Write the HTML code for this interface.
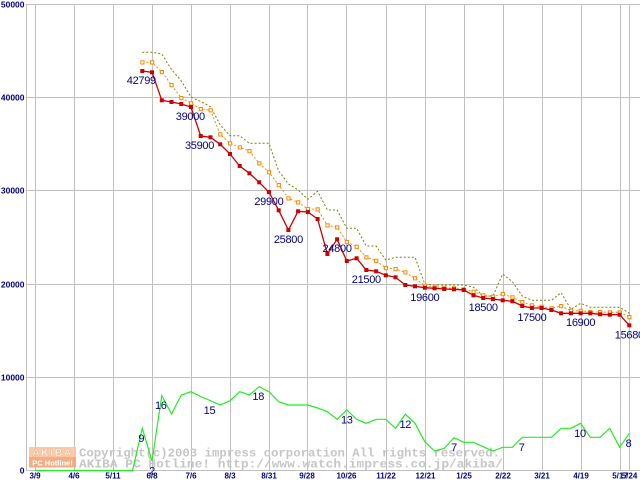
<!DOCTYPE html>
<html>
<head>
<meta charset="utf-8">
<style>
html,body{margin:0;padding:0;background:#fff;}
svg{display:block;}
</style>
</head>
<body>
<svg width="640" height="480" viewBox="0 0 640 480" xmlns="http://www.w3.org/2000/svg">
<rect x="0" y="0" width="640" height="480" fill="#ffffff"/>
<!-- grid -->
<g stroke="#c0c0c0" stroke-width="1" shape-rendering="crispEdges">
  <line x1="26" y1="4.5" x2="640" y2="4.5"/>
  <line x1="26" y1="97.5" x2="640" y2="97.5"/>
  <line x1="26" y1="190.5" x2="640" y2="190.5"/>
  <line x1="26" y1="284.5" x2="640" y2="284.5"/>
  <line x1="26" y1="377.5" x2="640" y2="377.5"/>
  <line x1="26" y1="470.5" x2="640" y2="470.5"/>
  <line x1="26.5" y1="4" x2="26.5" y2="471"/>
  <line x1="35.5" y1="4" x2="35.5" y2="471"/>
  <line x1="74.5" y1="4" x2="74.5" y2="471"/>
  <line x1="113.5" y1="4" x2="113.5" y2="471"/>
  <line x1="152.5" y1="4" x2="152.5" y2="471"/>
  <line x1="191.5" y1="4" x2="191.5" y2="471"/>
  <line x1="230.5" y1="4" x2="230.5" y2="471"/>
  <line x1="269.5" y1="4" x2="269.5" y2="471"/>
  <line x1="307.5" y1="4" x2="307.5" y2="471"/>
  <line x1="346.5" y1="4" x2="346.5" y2="471"/>
  <line x1="386.5" y1="4" x2="386.5" y2="471"/>
  <line x1="425.5" y1="4" x2="425.5" y2="471"/>
  <line x1="464.5" y1="4" x2="464.5" y2="471"/>
  <line x1="503.5" y1="4" x2="503.5" y2="471"/>
  <line x1="542.5" y1="4" x2="542.5" y2="471"/>
  <line x1="581.5" y1="4" x2="581.5" y2="471"/>
  <line x1="620.5" y1="4" x2="620.5" y2="471"/>
  <line x1="629.5" y1="4" x2="629.5" y2="471"/>
</g>

<!-- y labels -->
<g font-family="Liberation Sans, sans-serif" font-size="8.5" font-weight="bold" fill="#000080" text-anchor="end">
  <text x="24.5" y="7.5">50000</text>
  <text x="24.5" y="100.5">40000</text>
  <text x="24.5" y="193.5">30000</text>
  <text x="24.5" y="287.5">20000</text>
  <text x="24.5" y="380.5">10000</text>
  <text x="24.5" y="473.5">0</text>
</g>

<!-- x labels -->
<g font-family="Liberation Sans, sans-serif" font-size="8" font-weight="bold" fill="#000080" text-anchor="middle">
  <text x="35" y="478.5">3/9</text>
  <text x="74" y="478.5">4/6</text>
  <text x="113" y="478.5">5/11</text>
  <text x="152" y="478.5">6/8</text>
  <text x="191" y="478.5">7/6</text>
  <text x="230" y="478.5">8/3</text>
  <text x="269" y="478.5">8/31</text>
  <text x="307" y="478.5">9/28</text>
  <text x="346.5" y="478.5">10/26</text>
  <text x="386" y="478.5">11/22</text>
  <text x="425.5" y="478.5">12/21</text>
  <text x="464" y="478.5">1/25</text>
  <text x="503" y="478.5">2/22</text>
  <text x="542" y="478.5">3/21</text>
  <text x="581" y="478.5">4/19</text>
  <text x="620" y="478.5">5/17</text>
  <text x="629.5" y="478.5">5/24</text>
</g>

<!-- watermark logo -->
<g opacity="0.9">
  <rect x="29" y="447" width="47" height="10" fill="#f9c6a3"/>
  <rect x="29" y="457" width="47" height="10.5" fill="#f3a678"/>
  <text x="52.5" y="456" font-family="Liberation Sans, sans-serif" font-size="10.5" font-weight="bold" fill="#ffffff" stroke="#f0a070" stroke-width="0.4" text-anchor="middle" letter-spacing="1.5">AKIBA</text>
  <text x="52.5" y="465.5" font-family="Liberation Sans, sans-serif" font-size="7.5" font-weight="bold" fill="#ffffff" text-anchor="middle">PC Hotline!</text>
</g>
<!-- watermark text -->
<g font-family="Liberation Mono, monospace" font-size="12" font-weight="bold" fill="#c6c6c6">
  <text x="79" y="456.5" textLength="421" lengthAdjust="spacingAndGlyphs">Copyright(c)2003 impress corporation All rights reserved.</text>
  <text x="79" y="467.5" textLength="424" lengthAdjust="spacingAndGlyphs">AKIBA PC Hotline!  http://www.watch.impress.co.jp/akiba/</text>
</g>

<!-- green count line -->
<polyline fill="none" stroke="#22ee22" stroke-width="1.2" points="35,470.5 132.5,470.5 142.3,428.3 152.0,461 161.8,395.5 171.5,414 181.3,395 191.0,391.7 200.7,396.5 210.5,400.7 220.2,405 230.0,400.7 239.7,391.7 249.4,395 259.2,386.7 268.9,391.7 278.7,401.7 288.4,405 298.1,405 307.9,405 317.6,408 327.4,411.7 337.1,419.3 346.8,410 356.6,419.3 366.3,423.3 376.1,419.3 385.8,419.3 395.5,428.3 405.3,414.3 415.0,423.3 424.8,441.7 434.5,451 444.2,448.3 454.0,437.7 463.7,442.3 473.5,442.3 483.2,446.7 492.9,451 502.7,447.3 512.4,447.3 522.2,437.3 531.9,437.3 541.6,437.3 551.4,437.3 561.1,428.3 570.9,428.3 580.6,423.3 590.3,437.3 600.1,437.3 609.8,428.3 619.6,447.3 629.3,433.3"/>

<!-- olive max line -->
<polyline fill="none" stroke="#808000" stroke-width="1" stroke-dasharray="2 2" points="142.3,52.3 152.0,52.3 161.8,54 171.5,69.5 181.3,81 191.0,97 200.7,101.5 210.5,106.7 220.2,125 230.0,135.7 239.7,135.7 249.4,143.3 259.2,143.3 268.9,143.3 278.7,171 288.4,184 298.1,190 307.9,199.3 317.6,191.3 327.4,210 337.1,210 346.8,228.3 356.6,228.3 366.3,246 376.1,246 385.8,260 395.5,257.3 405.3,257.3 415.0,257.3 424.8,284 434.5,285 444.2,285 454.0,285 463.7,285 473.5,287.3 483.2,296 492.9,296 502.7,274 512.4,281.7 522.2,296 531.9,300.3 541.6,300.3 551.4,300.3 561.1,292.7 570.9,309.3 580.6,303.3 590.3,307.3 600.1,307.3 609.8,307.3 619.6,307.3 629.3,313.3"/>

<!-- orange average line -->
<polyline fill="none" stroke="#ff8800" stroke-width="1" stroke-dasharray="2 2" points="142.3,62.3 152.0,62.3 161.8,72 171.5,85 181.3,98 191.0,103.2 200.7,109 210.5,110.2 220.2,134.3 230.0,143.3 239.7,147.3 249.4,151 259.2,163.3 268.9,172.2 278.7,185 288.4,198.3 298.1,202.3 307.9,209 317.6,209.3 327.4,225.3 337.1,227.3 346.8,242 356.6,246.7 366.3,257.3 376.1,260.7 385.8,268 395.5,269 405.3,272.3 415.0,278.2 424.8,285.7 434.5,286.7 444.2,287.7 454.0,288.3 463.7,289.3 473.5,291.7 483.2,295.3 492.9,296.7 502.7,294 512.4,297.3 522.2,302 531.9,305.3 541.6,306.7 551.4,308.3 561.1,306 570.9,310.7 580.6,310.7 590.3,312 600.1,312 609.8,312.3 619.6,312.3 629.3,317"/>
<g fill="#ffffff" stroke="#ff8800" stroke-width="1">
  <rect x="140.8" y="60.8" width="3.2" height="3.2"/><rect x="150.5" y="60.8" width="3.2" height="3.2"/><rect x="160.3" y="70.5" width="3.2" height="3.2"/><rect x="170" y="83.5" width="3.2" height="3.2"/><rect x="179.8" y="96.5" width="3.2" height="3.2"/><rect x="189.5" y="101.7" width="3.2" height="3.2"/><rect x="199.2" y="107.5" width="3.2" height="3.2"/><rect x="209" y="108.7" width="3.2" height="3.2"/><rect x="218.7" y="132.8" width="3.2" height="3.2"/><rect x="228.5" y="141.8" width="3.2" height="3.2"/><rect x="238.2" y="145.8" width="3.2" height="3.2"/><rect x="247.9" y="149.5" width="3.2" height="3.2"/><rect x="257.7" y="161.8" width="3.2" height="3.2"/><rect x="267.4" y="170.7" width="3.2" height="3.2"/><rect x="277.2" y="183.5" width="3.2" height="3.2"/><rect x="286.9" y="196.8" width="3.2" height="3.2"/><rect x="296.6" y="200.8" width="3.2" height="3.2"/><rect x="306.4" y="207.5" width="3.2" height="3.2"/><rect x="316.1" y="207.8" width="3.2" height="3.2"/><rect x="325.9" y="223.8" width="3.2" height="3.2"/><rect x="335.6" y="225.8" width="3.2" height="3.2"/><rect x="345.3" y="240.5" width="3.2" height="3.2"/><rect x="355.1" y="245.2" width="3.2" height="3.2"/><rect x="364.8" y="255.8" width="3.2" height="3.2"/><rect x="374.6" y="259.2" width="3.2" height="3.2"/><rect x="384.3" y="266.5" width="3.2" height="3.2"/><rect x="394" y="267.5" width="3.2" height="3.2"/><rect x="403.8" y="270.8" width="3.2" height="3.2"/><rect x="413.5" y="276.7" width="3.2" height="3.2"/><rect x="423.3" y="284.2" width="3.2" height="3.2"/><rect x="433" y="285.2" width="3.2" height="3.2"/><rect x="442.7" y="286.2" width="3.2" height="3.2"/><rect x="452.5" y="286.8" width="3.2" height="3.2"/><rect x="462.2" y="287.8" width="3.2" height="3.2"/><rect x="472" y="290.2" width="3.2" height="3.2"/><rect x="481.7" y="293.8" width="3.2" height="3.2"/><rect x="491.4" y="295.2" width="3.2" height="3.2"/><rect x="501.2" y="292.5" width="3.2" height="3.2"/><rect x="510.9" y="295.8" width="3.2" height="3.2"/><rect x="520.7" y="300.5" width="3.2" height="3.2"/><rect x="530.4" y="303.8" width="3.2" height="3.2"/><rect x="540.1" y="305.2" width="3.2" height="3.2"/><rect x="549.9" y="306.8" width="3.2" height="3.2"/><rect x="559.6" y="304.5" width="3.2" height="3.2"/><rect x="569.4" y="309.2" width="3.2" height="3.2"/><rect x="579.1" y="309.2" width="3.2" height="3.2"/><rect x="588.8" y="310.5" width="3.2" height="3.2"/><rect x="598.6" y="310.5" width="3.2" height="3.2"/><rect x="608.3" y="310.8" width="3.2" height="3.2"/><rect x="618.1" y="310.8" width="3.2" height="3.2"/><rect x="627.8" y="315.5" width="3.2" height="3.2"/>
</g>

<!-- red min line -->
<polyline fill="none" stroke="#cc0000" stroke-width="1.3" points="142.3,71 152.0,72.3 161.8,100.3 171.5,102 181.3,104 191.0,107 200.7,136 210.5,137.3 220.2,144.3 230.0,154 239.7,166 249.4,173.3 259.2,182.3 268.9,192 278.7,210.3 288.4,230 298.1,211.3 307.9,212 317.6,219 327.4,254 337.1,239.3 346.8,261 356.6,258.3 366.3,270 376.1,271.3 385.8,275.3 395.5,277.3 405.3,285 415.0,286.3 424.8,287.7 434.5,288.3 444.2,289 454.0,289.3 463.7,290 473.5,295.3 483.2,298 492.9,299 502.7,300.3 512.4,301.3 522.2,306 531.9,308 541.6,308 551.4,310 561.1,313.3 570.9,313.3 580.6,313.3 590.3,313.3 600.1,314.3 609.8,314.7 619.6,314.7 629.3,325.3"/>
<g fill="#cc0000">
  <rect x="140.3" y="69" width="4" height="4"/><rect x="150" y="70.3" width="4" height="4"/><rect x="159.8" y="98.3" width="4" height="4"/><rect x="169.5" y="100" width="4" height="4"/><rect x="179.3" y="102" width="4" height="4"/><rect x="189" y="105" width="4" height="4"/><rect x="198.7" y="134" width="4" height="4"/><rect x="208.5" y="135.3" width="4" height="4"/><rect x="218.2" y="142.3" width="4" height="4"/><rect x="228" y="152" width="4" height="4"/><rect x="237.7" y="164" width="4" height="4"/><rect x="247.4" y="171.3" width="4" height="4"/><rect x="257.2" y="180.3" width="4" height="4"/><rect x="266.9" y="190" width="4" height="4"/><rect x="276.7" y="208.3" width="4" height="4"/><rect x="286.4" y="228" width="4" height="4"/><rect x="296.1" y="209.3" width="4" height="4"/><rect x="305.9" y="210" width="4" height="4"/><rect x="315.6" y="217" width="4" height="4"/><rect x="325.4" y="252" width="4" height="4"/><rect x="335.1" y="237.3" width="4" height="4"/><rect x="344.8" y="259" width="4" height="4"/><rect x="354.6" y="256.3" width="4" height="4"/><rect x="364.3" y="268" width="4" height="4"/><rect x="374.1" y="269.3" width="4" height="4"/><rect x="383.8" y="273.3" width="4" height="4"/><rect x="393.5" y="275.3" width="4" height="4"/><rect x="403.3" y="283" width="4" height="4"/><rect x="413" y="284.3" width="4" height="4"/><rect x="422.8" y="285.7" width="4" height="4"/><rect x="432.5" y="286.3" width="4" height="4"/><rect x="442.2" y="287" width="4" height="4"/><rect x="452" y="287.3" width="4" height="4"/><rect x="461.7" y="288" width="4" height="4"/><rect x="471.5" y="293.3" width="4" height="4"/><rect x="481.2" y="296" width="4" height="4"/><rect x="490.9" y="297" width="4" height="4"/><rect x="500.7" y="298.3" width="4" height="4"/><rect x="510.4" y="299.3" width="4" height="4"/><rect x="520.2" y="304" width="4" height="4"/><rect x="529.9" y="306" width="4" height="4"/><rect x="539.6" y="306" width="4" height="4"/><rect x="549.4" y="308" width="4" height="4"/><rect x="559.1" y="311.3" width="4" height="4"/><rect x="568.9" y="311.3" width="4" height="4"/><rect x="578.6" y="311.3" width="4" height="4"/><rect x="588.3" y="311.3" width="4" height="4"/><rect x="598.1" y="312.3" width="4" height="4"/><rect x="607.8" y="312.7" width="4" height="4"/><rect x="617.6" y="312.7" width="4" height="4"/><rect x="627.3" y="323.3" width="4" height="4"/>
</g>

<!-- price labels -->
<g font-family="Liberation Sans, sans-serif" font-size="11" fill="#000080" text-anchor="middle" letter-spacing="-0.3">
  <text x="141.3" y="84">42799</text>
  <text x="190.3" y="120">39000</text>
  <text x="199.5" y="149">35900</text>
  <text x="268.9" y="205">29900</text>
  <text x="288.4" y="243">25800</text>
  <text x="337.1" y="252">24800</text>
  <text x="366.3" y="283">21500</text>
  <text x="424.8" y="301">19600</text>
  <text x="483.2" y="311">18500</text>
  <text x="531.9" y="321">17500</text>
  <text x="580.6" y="326">16900</text>
  <text x="629.3" y="338.5">15680</text>
</g>
<!-- count labels -->
<g font-family="Liberation Sans, sans-serif" font-size="11" fill="#000080" text-anchor="middle" letter-spacing="-0.3">
  <text x="141.3" y="442">9</text>
  <text x="152.0" y="474.5">2</text>
  <text x="160.8" y="409">16</text>
  <text x="209.5" y="414">15</text>
  <text x="258.2" y="400">18</text>
  <text x="346.8" y="423.5">13</text>
  <text x="405.3" y="428">12</text>
  <text x="454.0" y="451">7</text>
  <text x="521.7" y="451">7</text>
  <text x="580" y="437">10</text>
  <text x="628.5" y="447">8</text>
</g>
</svg>
</body>
</html>
